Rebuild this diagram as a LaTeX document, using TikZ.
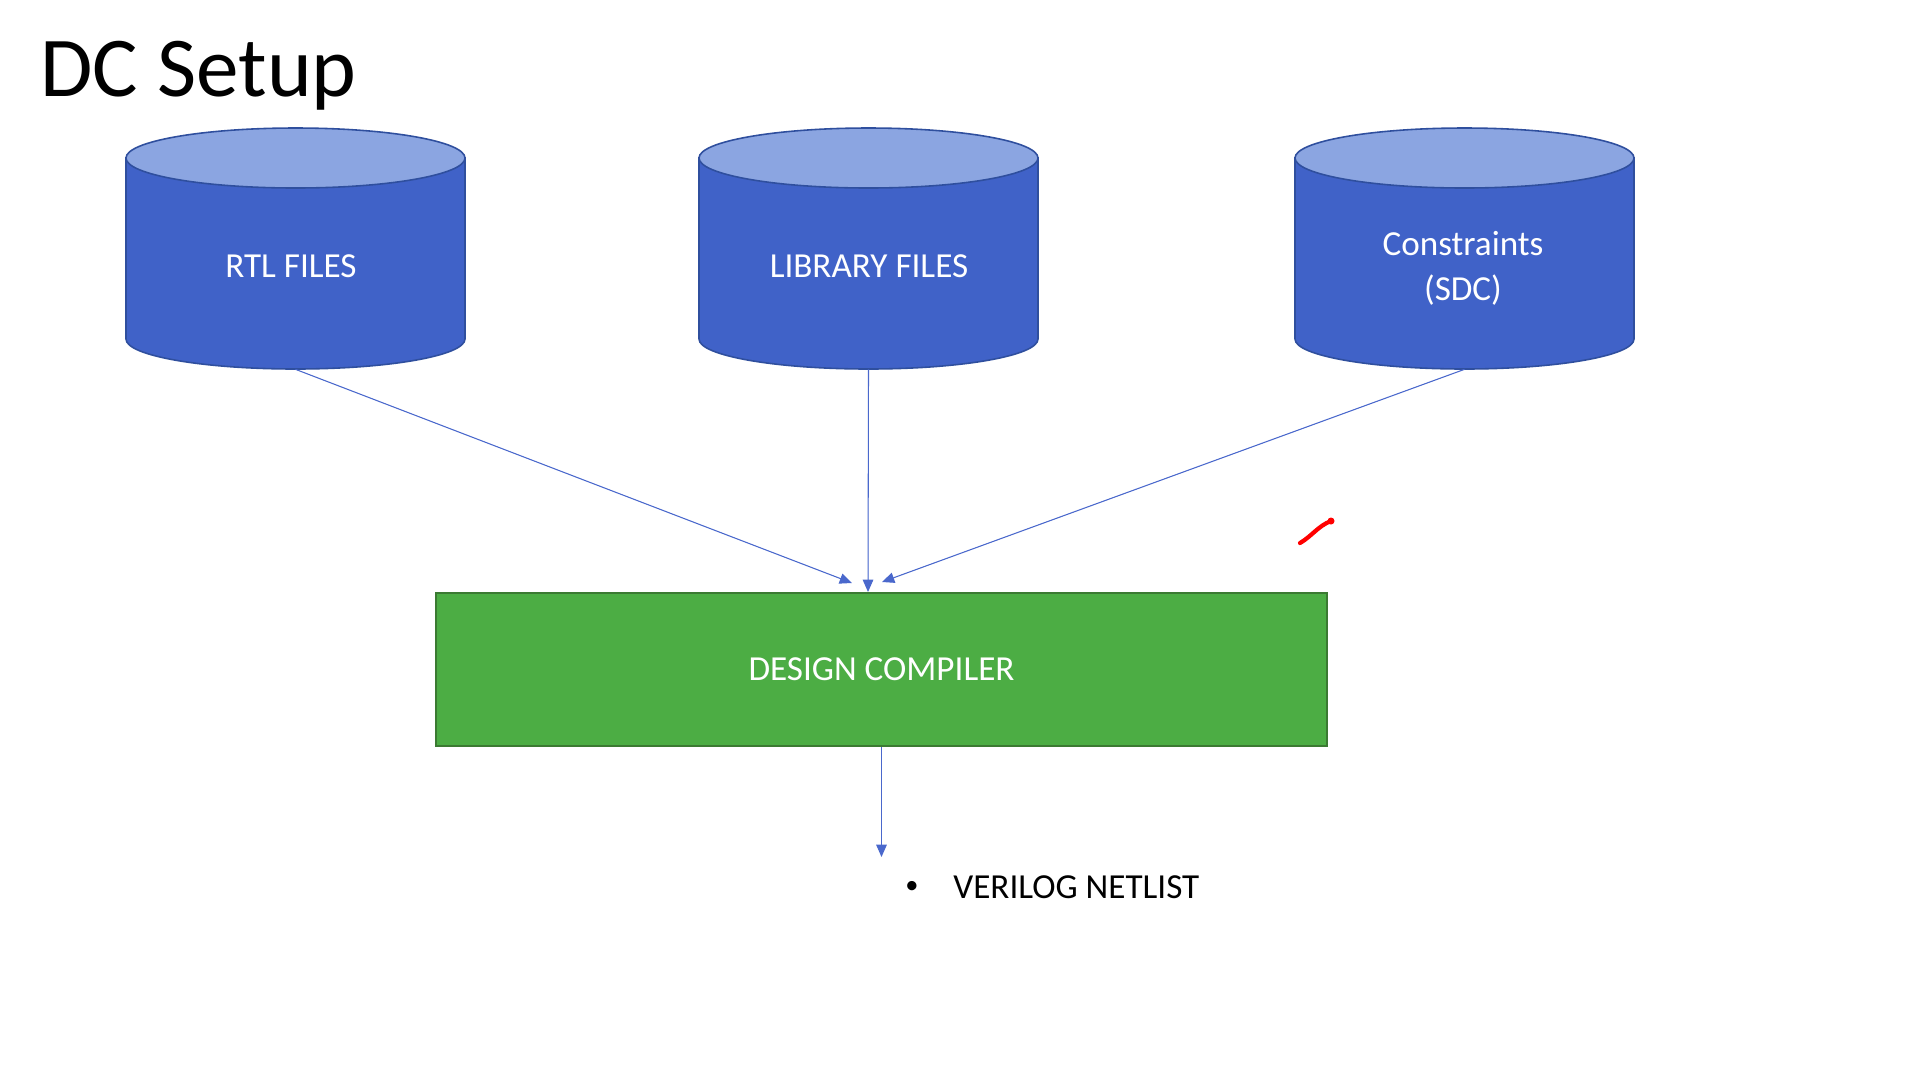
\documentclass[tikz,border=0pt]{standalone}
\usepackage{fontspec}
\setmainfont{Carlito}
\usetikzlibrary{arrows.meta}
\definecolor{dbblue}{HTML}{4062C8}
\definecolor{dbtop}{HTML}{8BA5E1}
\definecolor{dbline}{HTML}{2F4F9E}
\definecolor{dcgreen}{HTML}{4CAD44}
\definecolor{dcline}{HTML}{3B7A32}
\definecolor{arrowblue}{HTML}{4A68CC}
\tikzset{
  dbbox/.style={minimum width=6.78cm, minimum height=4.82cm, inner sep=0pt},
  lbl/.style={text=white, font=\fontsize{20}{25.6}\selectfont, align=center},
  feed/.style={draw=arrowblue, line width=0.6pt, -{Triangle[length=7pt,width=6pt]}, fill=arrowblue},
}
\begin{document}
\begin{tikzpicture}[x=0.02cm, y=0.02cm]
  \useasboundingbox (0,0) rectangle (1920,-1080);
  \node[anchor=base west, inner sep=0pt, font=\fontsize{48.5}{58}\selectfont] (title) at (40,-96) {DC Setup};

  \foreach \cx/\nm in {295.5/rtl, 868.5/lib, 1464.5/sdc} {
    \filldraw[fill=dbblue, draw=dbline, line width=0.9pt] (\cx-169.5,-158) -- (\cx-169.5,-339) arc (180:360:169.5 and 30) -- (\cx+169.5,-158) -- cycle;
    \filldraw[fill=dbtop, draw=dbline, line width=0.9pt] (\cx,-158) ellipse (169.5 and 30);
    \node[dbbox] (\nm) at (\cx,-248.5) {};
  }
  \node[lbl] (rtl-lbl) at (291,-266.5) {RTL FILES};
  \node[lbl] (lib-lbl) at (869,-266.5) {LIBRARY FILES};
  \node[lbl] (sdc-lbl) at (1463,-268.5) {Constraints\\(SDC)};

  \node[draw=dcline, fill=dcgreen, line width=1.1pt, minimum width=17.82cm, minimum height=3.06cm, text=white, font=\fontsize{20}{25.6}\selectfont] (dc) at (881.5,-669.5) {DESIGN COMPILER};

  \coordinate (dc-inl) at (852,-583);
  \coordinate (dc-inm) at (868,-592);
  \coordinate (dc-inr) at (882,-582);
  \coordinate (net-in) at (881.5,-857);

  \draw[feed] (rtl.south) -- (dc-inl);
  \draw[feed] (lib.south) -- (dc-inm);
  \draw[feed] (sdc.south) -- (dc-inr);
  \draw[feed] (dc.south) -- (net-in);

  \node[inner sep=0pt, font=\fontsize{15}{18}\selectfont] (bul) at (912,-887) {\textbullet};
  \node[anchor=base west, inner sep=0pt, font=\fontsize{20}{25.6}\selectfont] (netlist) at (953,-898) {VERILOG NETLIST};

  \draw[red, line width=2.4pt, line cap=round] (1331,-521) .. controls (1318,-526) and (1312,-536) .. (1300,-543);
  \fill[red] (1331,-521) circle (3.5);
\end{tikzpicture}
\end{document}
